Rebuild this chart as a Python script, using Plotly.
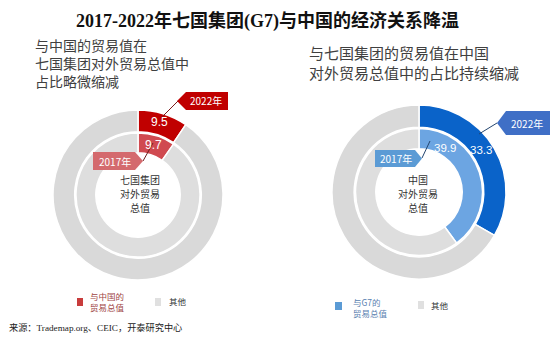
import plotly.graph_objects as go

W, H = 558, 342

# ---------------- data ----------------
slice_labels = ["与中国的贸易总值", "其他"]
slice_labels_cn = ["与G7的贸易总值", "其他"]
g7_2022 = [9.5, 90.5]     # share of China in G7 total trade, 2022
g7_2017 = [9.7, 90.3]     # 2017
cn_2022 = [33.3, 66.7]    # share of G7 in China's total trade, 2022
cn_2017 = [39.9, 60.1]    # 2017
years = ["2017年", "2022年"]

title_text = "2017-2022年七国集团(G7)与中国的经济关系降温"
left_sub = "与中国的贸易值在<br>七国集团对外贸易总值中<br>占比略微缩减"
right_sub = "与七国集团的贸易值在中国<br>对外贸易总值中的占比持续缩减"
left_center = ["七国集团", "对外贸易", "总值"]
right_center = ["中国", "对外贸易", "总值"]
left_legend = ["与中国的<br>贸易总值", "其他"]
right_legend = ["与G7的<br>贸易总值", "其他"]
source_text = "来源：Trademap.org、CEIC，开泰研究中心"

# ---------------- styles ----------------
RED_DARK = "#C00000"
RED_LIGHT = "#D04A50"
BLUE_DARK = "#0A63C9"
BLUE_LIGHT = "#6CA5E2"
GRAY_OUT = "#D9D9D9"
GRAY_IN = "#DEDEDE"
SANS = "Noto Sans CJK SC, Noto Sans, sans-serif"
SERIF = "Liberation Serif, Noto Sans CJK SC, serif"


def px(x):
    return x / W


def py(y):
    return 1 - y / H


def dom(cx, cy, r):
    return dict(x=[px(cx - r), px(cx + r)], y=[py(cy + r), py(cy - r)])


fig = go.Figure()

def add_donut(cx, cy, R, outer_vals, inner_vals, outer_cols, inner_cols, labels):
    fig.add_trace(go.Pie(
        values=outer_vals, labels=labels, domain=dom(cx, cy, R), hole=0.745,
        sort=False, direction="clockwise", rotation=0,
        marker=dict(colors=outer_cols, line=dict(color="white", width=1.5)),
        textinfo="none", hoverinfo="label+value", showlegend=False))
    r_in = R * 0.73
    fig.add_trace(go.Pie(
        values=inner_vals, labels=labels, domain=dom(cx, cy, r_in), hole=0.68,
        sort=False, direction="clockwise", rotation=0,
        marker=dict(colors=inner_cols, line=dict(color="white", width=1.5)),
        textinfo="none", hoverinfo="label+value", showlegend=False))


add_donut(138, 195, 85, g7_2022, g7_2017, [RED_DARK, GRAY_OUT], [RED_LIGHT, GRAY_IN], slice_labels)
add_donut(419, 192, 87, cn_2022, cn_2017, [BLUE_DARK, GRAY_OUT], [BLUE_LIGHT, GRAY_IN], slice_labels_cn)

shapes = []
annos = []


def text(x, y, t, size, color, family=SANS, xanchor="center", yanchor="middle", align="center", bold=False):
    annos.append(dict(x=px(x), y=py(y), xref="paper", yref="paper", text=f"<b>{t}</b>" if bold else t,
                      showarrow=False, xanchor=xanchor, yanchor=yanchor, align=align,
                      font=dict(size=size, color=color, family=family)))


def arrow_box(x0, x1, y0, y1, tip, side, color):
    ym = (y0 + y1) / 2
    if side == "left":
        pts = [(x0, ym), (x0 + tip, y0), (x1, y0), (x1, y1), (x0 + tip, y1)]
    else:
        pts = [(x0, y0), (x1 - tip, y0), (x1, ym), (x1 - tip, y1), (x0, y1)]
    path = "M " + " L ".join(f"{px(a):.5f},{py(b):.5f}" for a, b in pts) + " Z"
    shapes.append(dict(type="path", path=path, xref="paper", yref="paper",
                       fillcolor=color, line=dict(width=0)))


def line(x0, y0, x1, y1, color):
    shapes.append(dict(type="line", x0=px(x0), y0=py(y0), x1=px(x1), y1=py(y1),
                       xref="paper", yref="paper", line=dict(color=color, width=1)))


def square(x, y, w, h, color):
    shapes.append(dict(type="rect", x0=px(x), x1=px(x + w), y0=py(y + h), y1=py(y),
                       xref="paper", yref="paper", fillcolor=color, line=dict(width=0)))


# title and subtitles
text(267, 21, title_text, 18, "#111111", family=SERIF, bold=True)
text(33, 33, left_sub, 14, "#404040", xanchor="left", yanchor="top", align="left")
text(307, 40, right_sub, 15, "#404040", xanchor="left", yanchor="top", align="left")

# center texts (one line each)
for i, t in enumerate(left_center):
    text(140, 179 + 14 * i, t, 10, "#333333")
for i, t in enumerate(right_center):
    text(418, 179 + 14 * i, t, 10, "#333333")

# value labels
VF = "Liberation Sans, Arial"
text(159, 122, f"{g7_2022[0]}", 12, "white", family=VF)
text(153, 145, f"{g7_2017[0]}", 12, "white", family=VF)
text(445, 148, f"{cn_2017[0]}", 11.5, "white", family=VF)
text(481, 150, f"{cn_2022[0]}", 11.5, "white", family=VF)

# callouts left
line(178, 101, 162, 117, "#7A1A1A")
arrow_box(177, 228, 92, 110, 9, "left", RED_DARK)
text(206, 101, years[1], 10, "white")
line(143, 161, 153, 143, "#6B1E1E")
arrow_box(93, 143, 152, 170, 8, "right", "#D46A6E")
text(115, 161, years[0], 10, "white")

# callouts right
line(497, 123, 479, 134, "#23456F")
arrow_box(497, 550, 111, 135, 9, "left", "#3F6FC6")
text(527, 123, years[1], 10, "white")
line(422, 158, 430, 141, "#23456F")
arrow_box(375, 422, 150, 167, 7, "right", "#5B9BD5")
text(396, 158, years[0], 10, "white")

# legends
square(77, 298, 6, 8, "#C83C3C")
text(88, 301, left_legend[0], 8.5, "#A04545", xanchor="left", align="left")
square(155, 298, 6, 8, "#E0E0E0")
text(167, 301, left_legend[1], 8.5, "#333333", xanchor="left", align="left")
square(335, 302, 7, 8, "#5B9BD5")
text(351, 307, right_legend[0], 8.5, "#5A7FB0", xanchor="left", align="left")
square(418, 301, 6, 8, "#E0E0E0")
text(429, 305, right_legend[1], 8.5, "#333333", xanchor="left", align="left")

# source
text(7, 327, source_text, 9.2, "#222222", family=SERIF, xanchor="left")

fig.update_layout(width=W, height=H, autosize=False, margin=dict(l=0, r=0, t=0, b=0),
                  paper_bgcolor="white", plot_bgcolor="white",
                  shapes=shapes, annotations=annos, showlegend=False)

fig.write_html("out.html", config={"displayModeBar": False})
